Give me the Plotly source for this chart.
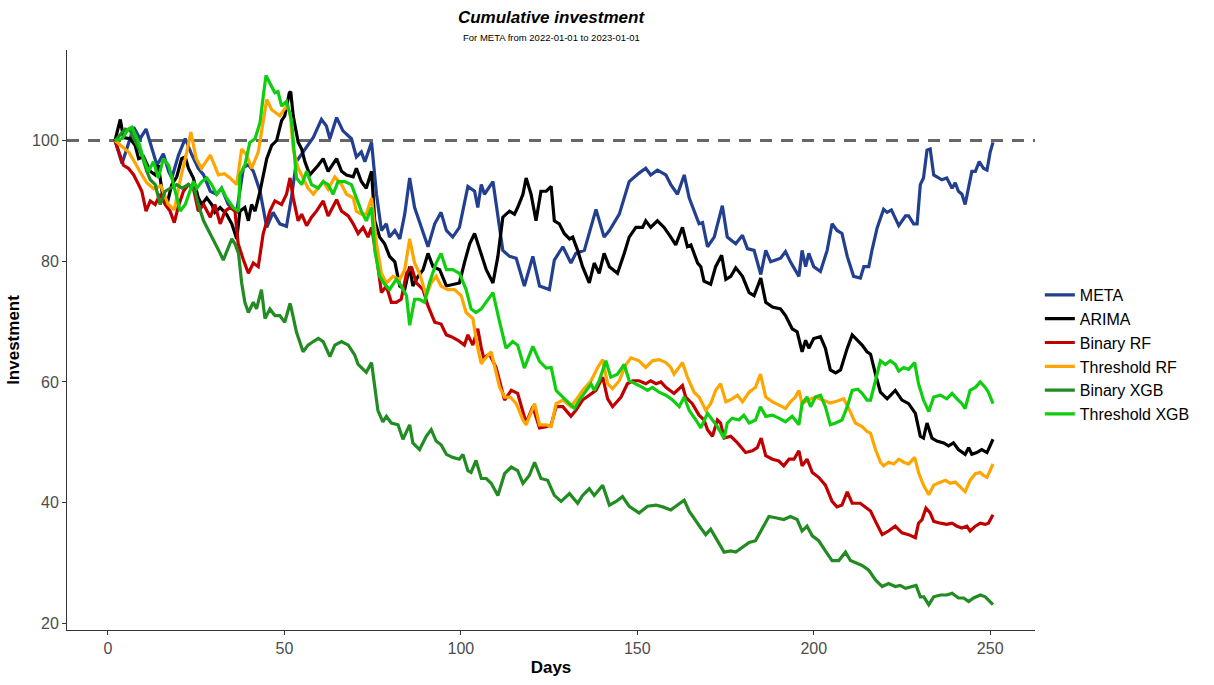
import plotly.graph_objects as go

# ---- data: (day, cumulative investment) ----
META = [(2,100),(4,96.2),(7.3,102.2),(9.1,100.3),(10.8,101.9),(12.4,98.6),(13.9,95.9),(15.7,97.8),(17.2,94.9),(18.1,93.8),(20,97.6),(21.9,100.3),(23.8,97.6),(25.6,95.4),(27.1,94.3),(29,91.6),(30.8,91.1),(32.2,92.1),(34.1,89.4),(36.5,88.3),(38.4,95.5),(39.8,96),(41.2,94.9),(43.1,91.6),(45,85.6),(46.8,88.1),(48.7,86.2),(50.6,85.8),(52,90.5),(53.4,96.5),(56.3,98.9),(58.2,100.5),(60.5,103.5),(61.9,102.4),(62.9,100.3),(64.8,103.8),(66.6,101.6),(69,100.3),(70.4,97.3),(71.8,98.1),(72.8,96.5),(74.7,99.7),(76.1,91.1),(77.5,85.1),(78.9,86.2),(79.8,84),(81.3,85.1),(82.7,83.7),(84.1,87.8),(85.5,93.8),(86.9,88.9),(88.8,85.6),(90.7,82.4),(92.6,86.2),(94.4,88.1),(95.9,85.1),(97.7,84),(99.6,85.6),(102,92.4),(103.9,91.6),(104.8,88.9),(105.8,92.7),(106.7,91.1),(109.1,93.2),(111.9,81.8),(113.8,80.8),(115.7,80.5),(118,75.9),(120.4,80.8),(122.3,75.9),(125.1,75.3),(126.5,80.2),(128.9,82.4),(131.2,79.7),(132.6,81.3),(135,81.8),(138.3,88.6),(140.6,84),(142.1,85.1),(144.9,87.8),(147.7,93.2),(150.5,94.6),(152.4,95.4),(153.8,94.3),(155.7,95.1),(158.1,94.3),(159.5,92.7),(161.4,91.1),(163.3,94.3),(164.7,90.5),(167.5,86.2),(168.5,86.4),(169.9,82.4),(171.8,84),(174.1,89.2),(175.5,84),(177.9,82.9),(179.8,84.3),(181.2,82.1),(183.1,81.8),(185,77.8),(186.4,81.8),(187.8,79.9),(190.6,80.5),(192,81.6),(193.4,79.9),(195.8,77.5),(196.7,81.8),(197.7,79.1),(198.6,81.3),(200,79.1),(201.9,78.3),(203.8,81.8),(205.2,86.2),(206.6,85.1),(208,84.6),(209.5,80.8),(211.3,77.5),(213.2,77.2),(214.2,79.1),(215.6,79.1),(216.5,81.8),(218,85.6),(219.8,88.6),(220.8,88.1),(222,88.5),(224.1,85.9),(226,87.5),(226.9,87.5),(228.3,86.2),(229.3,86.2),(230.2,92.7),(231.1,93.8),(232.1,98.4),(233,98.6),(234,94.3),(234.9,94),(236.3,93.5),(237.7,93.8),(239.2,92.1),(240.1,93),(241,91.6),(242,91.1),(242.9,89.4),(244.8,94.9),(245.8,94.9),(246.9,96.5),(248.1,95.4),(249.1,95.1),(250,98.1),(250.8,99.7)]

ARIMA = [(2,100),(3.5,103.5),(4.4,100.5),(6.3,100.3),(7.7,99.2),(8.7,97),(10.1,97.3),(12,94.9),(13.4,94.3),(14.3,95.9),(15.7,90),(16.7,89.4),(18.1,92.7),(19.5,94),(20.9,97),(21.9,97.3),(22.8,95.4),(24.2,93.8),(25.6,90.5),(26.6,89.4),(28,90.5),(29.4,89.4),(30.3,88.1),(31.8,88.9),(33.6,87.8),(35.1,86.2),(36.5,83.7),(37.4,88.3),(38.8,88.9),(39.8,86.7),(40.7,89.4),(41.7,88.3),(43.1,91.6),(45,97),(46.4,99.2),(47.8,100),(49.2,103.3),(50.1,104.1),(51.4,107.9),(51.8,108.1),(52.5,104.1),(53.9,99.7),(54.9,98.6),(55.8,96.5),(57.2,94.3),(58.2,94.9),(59.6,95.9),(61,97),(62.4,94.9),(64.8,97),(66.2,94.9),(67.6,94.3),(69.5,94),(70.4,95.4),(71.8,93.2),(73.2,92.1),(74.7,94.9),(75.6,86.7),(77,84),(78.4,82.9),(79.8,80.8),(81.3,79.9),(82.7,75.9),(84.1,75.3),(85.5,79.1),(86.4,75.9),(87.9,77.5),(89.3,78.6),(90.7,81.3),(92.1,79.1),(94,78.6),(95.9,75.9),(97.7,76.2),(99.6,76.4),(101,79.7),(102.5,82.9),(103.9,84.6),(104.8,82.9),(105.8,80.8),(107.2,78.6),(109.1,76.4),(110.5,80.8),(111.9,87.3),(113.8,88.3),(115.2,87.8),(116.1,88.9),(117.6,91.1),(118.5,93.8),(119.9,91.1),(121.3,86.7),(122.7,91.6),(124.2,91.6),(125.6,92.4),(126.5,86.7),(127.9,86.2),(129.3,84.6),(130.8,83.7),(131.7,84),(133.1,81.8),(134.5,79.1),(136.4,76.4),(137.8,79.7),(139.2,78),(140.6,81.3),(142.1,79.1),(144.4,78),(146.3,81.3),(147.7,84),(149.6,85.6),(151.5,85.6),(152.4,86.7),(153.8,85.6),(155.7,86.7),(157.6,85.6),(159.5,84),(160.9,82.7),(162.8,85.6),(164.2,82.4),(165.2,82.7),(167.1,79.7),(168,79.1),(168.9,76.7),(170.8,76.2),(172.2,79.1),(173.9,81),(175.1,77),(176.5,77.5),(177.9,78.9),(179.8,77.5),(181.7,74.8),(183.1,74.3),(185,77.2),(186.4,73.2),(188.3,72.4),(190.6,72.1),(192,71),(193.9,68.8),(195.3,68.3),(196.7,65),(197.7,66.9),(198.6,65.6),(200,67.2),(201.9,67.5),(203.3,65.6),(204.7,62),(206.2,61.5),(207.6,62),(209.5,65.6),(210.9,67.8),(212.3,66.9),(213.7,66.1),(215.1,65),(216.1,64.6),(217.5,61.3),(218.9,58.3),(220.8,57.2),(223.1,58.6),(225,57),(226.9,56.4),(228.8,54.8),(230.2,51),(231.1,50.7),(232.1,53.2),(233.5,50.7),(234.9,50.2),(236.8,49.9),(238.2,49.4),(239.6,49.9),(241,48.8),(242.9,48),(243.9,49.1),(244.8,48),(246.2,48.3),(247.6,48.8),(249.1,48.3),(250.8,50.5)]

BINARY_RF = [(2,100),(3.5,97.6),(4.4,95.9),(5.8,95.4),(7.3,94.3),(8.7,92.7),(9.6,91.6),(10.8,88.3),(12,90),(13.4,89.4),(14.8,91.1),(16.2,89.4),(17.6,88.3),(18.8,86.4),(20,89.2),(21.4,91.6),(22.8,92.7),(24.2,92.1),(25.6,88.3),(27.1,89.4),(29,87.3),(30.3,89.4),(31.8,86.2),(33.2,88.3),(34.6,88.9),(36,88.3),(36.9,82.9),(38.4,80.2),(39.8,78),(41.2,79.7),(42.6,79.1),(44,84.6),(45.9,88.3),(47.3,90),(49.2,89.4),(50.6,91.1),(51.6,93.8),(52.5,90.5),(53.9,86.7),(54.9,87.8),(56.3,85.9),(57.7,87.3),(59.1,88.3),(61,90),(62.4,87.5),(64.8,90.2),(66.2,88.3),(68.1,87.5),(69.5,86.2),(70.9,84.6),(72.3,85.6),(73.7,84),(74.7,85.6),(76.1,80.8),(77.5,74.8),(78.9,75.9),(80.3,73.2),(81.7,73.2),(83.1,73.7),(84.6,78),(86,79.1),(87.4,76.4),(89.3,75.3),(90.7,72.6),(92.6,69.9),(94.4,69.6),(95.9,67.8),(97.3,67.5),(99.2,66.9),(101,66.1),(102,67.8),(103.4,66.1),(104.8,68.8),(105.8,65.6),(106.5,64),(108.1,64.6),(110,62.4),(112.4,57),(114.3,58.6),(116.1,58.1),(118.5,53.2),(120.4,55.9),(122.3,52.4),(124.2,52.6),(125.6,52.9),(127,55.9),(128.9,55.9),(131.2,54.3),(132.6,55.3),(134.5,57),(136.9,58.1),(138.3,58.6),(140.2,60.8),(141.6,57.2),(143,55.9),(145.4,57.5),(147.2,59.7),(148.7,60.2),(150.5,60.2),(152.4,59.7),(153.8,60.2),(155.3,59.7),(156.7,60),(158.1,59.1),(160.4,58.1),(162.8,59.4),(163.7,57.5),(165.6,56.4),(167.5,54.5),(168.9,53.7),(169.9,52.1),(171.3,51),(172.7,53.7),(173.6,53.2),(174.6,50.7),(176.5,51),(178.4,49.9),(180.7,48.3),(182.6,48.6),(184,49.1),(185.1,50.7),(186.4,47.8),(188.3,47.2),(190.1,46.9),(191.5,46.1),(193,47.2),(194.4,47.2),(195.8,48.6),(196.7,46.1),(198.1,47.2),(199.6,45),(201.4,44.2),(203.3,42.9),(205.2,40.2),(206.6,39.3),(208,39.6),(209.5,41.8),(210.9,39.9),(213.2,39.9),(214.6,39.3),(216.1,38.6),(217.5,36.9),(219.4,34.7),(221.2,35.3),(223.1,36.1),(225,35),(226.9,34.7),(228.8,34.2),(229.7,36.6),(230.7,37.2),(231.8,39.1),(233,38.3),(234,36.9),(235.9,36.6),(237.7,36.4),(239.2,36.6),(240.6,36.1),(242,35.8),(243.4,36.1),(244.3,35.3),(245.8,36.1),(247.2,36.6),(248.6,36.4),(249.5,36.6),(250.8,38)]

THRESHOLD_RF = [(2,100),(4,99),(6,98),(8,96),(9,94.9),(11,93),(13,92),(15,92.5),(17,89.5),(18.8,88.5),(20.5,93.5),(22.3,98),(23.5,101.4),(25,97),(26.5,95.4),(29,97.6),(31.3,94.3),(33,94.5),(34.6,93.8),(36.5,92.7),(37.9,98.6),(39.3,97.6),(40.7,95.4),(42.6,98.1),(44,103.5),(45,106.8),(46.4,105.1),(48.7,104.1),(50.6,105.7),(51.6,104.6),(52.5,98.6),(53.9,95.4),(55.3,93.8),(56.7,92.1),(58.2,91.1),(59.6,92.1),(61,93.2),(62.4,91.9),(64.3,94),(66.2,92.7),(67.6,91.1),(69.5,90.5),(70.4,88.3),(71.8,87.8),(73.2,87.8),(74.7,90.5),(76.1,82.9),(77.5,78),(78.9,76.4),(80.8,77.5),(82.7,77),(84.1,78.6),(85.5,83.7),(86.9,79.7),(88.3,78),(90.2,74.3),(91.6,76.4),(93,77.5),(94.4,75.9),(96.3,75.3),(98.2,75.3),(100.1,74.3),(101.5,71.5),(103.4,70.5),(104.8,65.6),(105.8,63),(106.2,63.4),(108.6,65),(109.5,62.9),(111,59.1),(112.4,57.5),(114,57.5),(115.7,56.4),(117.6,53.7),(118.5,52.9),(120.9,56.4),(122.3,52.9),(124.2,52.9),(125.6,52.6),(127,56.4),(128.9,57),(131.2,55.9),(132.6,57),(134.5,58.6),(136.9,60.2),(138.8,62.4),(140.2,63.7),(141.6,59.7),(143,58.9),(144.9,60.2),(146.8,62.9),(148.2,64),(150.5,63.5),(152.4,62.4),(154.3,63.5),(156.2,63.7),(158.1,63.2),(159.5,62.4),(160.4,61.3),(162.8,63.2),(164.2,60.8),(166.1,58.3),(167.5,57.5),(169.4,55.3),(170.8,56.4),(172.2,58.6),(173.6,59.7),(175.1,56.7),(176.9,57.2),(178.4,57.8),(179.8,56.7),(181.7,58.3),(183.5,59.1),(184.9,61.3),(186.4,57.5),(188.3,56.7),(190.1,56.2),(192,55.6),(193.4,56.7),(194.8,57.5),(195.8,58.6),(196.7,56.4),(198.5,57),(200.5,57.5),(202.5,57),(204.7,56.5),(206.5,56.8),(208.5,57.2),(210.4,55),(211.8,53.2),(213.7,52.6),(215.1,51.8),(216.1,51.5),(217.5,48.8),(218.9,46.7),(219.8,46.1),(221.2,46.7),(222.7,46.4),(224.1,47.2),(225.5,46.7),(226.9,46.4),(228.6,47.5),(229.7,45),(231.1,42.9),(232.6,41.3),(234,42.9),(235.9,43.4),(237.3,43.7),(238.7,43.2),(240.1,43.4),(241.5,42.6),(242.9,41.8),(244.3,43.7),(245.8,44.8),(247.2,45),(248.1,44.5),(249.1,44.2),(250.8,46.4)]

BINARY_XGB = [(2,100),(4.9,101.9),(6.3,101.6),(8.2,99.2),(9.6,97.6),(11,94.9),(12,93.5),(13.4,92.7),(14.8,89.4),(16.2,91.6),(17.6,92.1),(19.5,92.7),(21,92.1),(22.8,92.7),(24.7,91.6),(25.6,89.4),(27.1,86.7),(29,84.6),(30.3,82.9),(31.8,81.3),(32.7,80.2),(34.1,82.4),(35.1,83.7),(36,82.9),(37,81.3),(37.9,76.4),(38.8,73.2),(39.8,71.5),(41.2,73.2),(42.1,72.1),(43.5,75.3),(44.5,70.5),(45.9,72.1),(47.3,71),(48.7,71),(50.1,69.9),(51.6,73),(52,72.1),(53.4,68.3),(55.3,65),(56.7,66.1),(58.2,66.7),(59.6,67.2),(61,66.7),(62.9,64.2),(64.3,66.1),(66.2,66.7),(68.1,66.1),(69.9,64.5),(70.9,62.9),(73.2,61.6),(74.7,63.2),(75.6,59.1),(76.5,55.3),(77.9,53.4),(78.9,54.3),(80.3,53.2),(82.2,52.9),(83.6,50.5),(85.5,52.9),(86.4,49.9),(88.3,48.8),(90.2,51),(91.6,52.1),(93,50.2),(94.4,49.6),(95.9,48),(97.7,47.5),(99.6,47.2),(100.6,48),(102,45.3),(102.9,45),(104.3,47),(105.8,44),(107.2,44),(108.6,43.2),(110.5,41.2),(112.4,44.8),(114.3,45.9),(116.1,45.3),(117.6,43.2),(119.4,44.5),(120.9,46.7),(122.7,44),(124.6,43.7),(126.5,41.2),(128.4,40.2),(130.8,41.5),(133.1,39.9),(134.5,41.2),(136.4,42.3),(137.8,41.2),(140.2,42.9),(142.1,39.6),(144,40.2),(145.8,41),(147.7,39.4),(150.5,38.3),(152.9,39.4),(155.3,39.6),(157.2,39.3),(159.5,38.8),(161.4,39.6),(163.3,40.4),(164.7,38.6),(166.6,36.9),(168,35.8),(169.4,34.7),(170.8,35.6),(172.7,33.7),(174.6,31.8),(176.5,32),(177.9,31.8),(179.8,32.6),(181.7,33.4),(183.5,33.7),(185.4,35.8),(187.3,37.7),(189.2,37.5),(191.5,37.2),(193.4,37.7),(195.3,37.2),(196.7,35.3),(198.1,36.1),(199.6,34.5),(201.4,33.7),(203.3,32),(205.2,30.4),(207.1,30.4),(209,31.8),(210.4,30.4),(212.8,29.9),(213.7,29.6),(215.6,28.8),(217.5,27.2),(219.4,26.1),(221.2,26.6),(223.1,26.1),(224.5,26.3),(226,25.8),(227.8,26.1),(229,26.3),(230.2,24.4),(231.2,24.4),(232.6,23.1),(234,24.4),(235.9,24.7),(237.7,24.7),(239.2,25),(241,24.2),(242.5,24.2),(243.9,23.6),(245.3,24.2),(247.2,24.7),(248.6,24.4),(250.8,23.1)]

THRESHOLD_XGB = [(2,100),(4,100.3),(5.8,101.9),(6.8,102.2),(8.7,99.7),(10.1,97),(11.5,94.9),(12.9,96.5),(14.3,93.8),(15.7,97),(17.2,95.9),(18.6,92.7),(20.5,88.3),(21.9,89.4),(23.3,91.6),(24.2,93.2),(25.2,92.1),(26.6,93.2),(28,93.8),(29.4,92.7),(30.8,91.1),(32.2,92.1),(33.6,90.5),(35.5,88.9),(37,88.3),(37.4,94.3),(38.8,95.9),(40.2,99.7),(41.7,100.3),(43.1,103),(44,107.3),(44.8,110.8),(45.9,109.5),(47.3,107.9),(48.2,108.1),(49.2,105.7),(50.6,106.5),(52,103.5),(53.4,93.8),(54.9,92.7),(56.3,94.9),(57.7,92.7),(59.6,92.1),(61,93.2),(62.4,92.7),(63.8,91.1),(65.2,93.2),(67.1,93.2),(69,92.7),(70.4,90.5),(71.8,88.3),(73.2,86.7),(74.7,88.9),(75.6,81.8),(77,77.5),(78.4,76.2),(79.8,75.3),(81.7,77),(83.1,75.9),(84.6,74.3),(85.5,69.4),(86.9,73.7),(88.3,73.7),(89.7,73.2),(91.1,76.4),(93,79.7),(94.4,81.3),(95.9,78.6),(97.7,78.6),(99.6,78),(101.5,75.3),(102.9,72.1),(104.3,71.5),(105.8,72.1),(107.2,73.2),(109.1,74.8),(111,69.9),(112.8,65.6),(114.7,66.7),(116.1,66.1),(118,62.3),(120.4,65.9),(122.3,63.4),(124.2,62.3),(125.6,62.4),(127,58.6),(128.9,57.5),(130.8,56.4),(132.2,55.6),(133.6,57),(135.5,58.6),(136.9,59.7),(137.8,58.6),(139.2,60.2),(141.1,63.5),(142.5,60.8),(144.4,61.3),(146.3,62.9),(147.7,60.2),(149.6,59.7),(151.5,59.1),(152.9,58.6),(154.3,59.1),(156.2,58.3),(158.1,57.8),(160,57),(161.9,55.9),(163.3,57.5),(164.7,55.3),(166.6,53.7),(168,52.4),(169.9,54.8),(171.3,53.7),(172.7,52.6),(174.6,50.7),(175.5,53.2),(176.9,54),(178.8,53.7),(180.2,54.5),(181.7,53.2),(183.5,53.7),(184.9,55.9),(186.4,54.3),(188.3,54.5),(190.1,54),(192,53.4),(193.9,54.3),(195.8,52.9),(196.7,56.4),(198.1,57.5),(199.1,55.9),(200.5,57.5),(201.9,57.8),(203.3,55.9),(204.7,52.9),(206.2,53.2),(208,53.7),(209.5,55.9),(210.9,58.6),(212.5,58.8),(213.7,58.1),(215.1,57),(216.1,57),(217.5,60.2),(218.9,63.5),(220.3,62.9),(221.7,63.5),(223.1,62.9),(224.1,61.8),(225.5,62.4),(226.9,62.1),(228.6,63.2),(229.7,59.7),(231.1,57),(232.6,55.1),(234,57.5),(235.9,57.8),(237.7,57.2),(239.2,58.1),(240.6,57.2),(242,56.4),(242.9,55.6),(244.3,58.6),(245.8,59.1),(247.2,60),(248.6,59.1),(249.5,58.3),(250.8,56.4)]

SERIES_NAMES = ["META", "ARIMA", "Binary RF", "Threshold RF", "Binary XGB", "Threshold XGB"]
SERIES_DATA = [META, ARIMA, BINARY_RF, THRESHOLD_RF, BINARY_XGB, THRESHOLD_XGB]
SERIES_COLORS = ["#233F8F", "#000000", "#C00000", "#FFA500", "#228B22", "#0FCD0F"]

X_TICKS = [0, 50, 100, 150, 200, 250]
Y_TICKS = [20, 40, 60, 80, 100]
BASELINE = 100

FONT = "Liberation Sans, Arial, sans-serif"

fig = go.Figure()
for name, pairs, color in zip(SERIES_NAMES, SERIES_DATA, SERIES_COLORS):
    fig.add_trace(go.Scatter(
        x=[p[0] for p in pairs], y=[p[1] for p in pairs],
        mode="lines", name=name,
        line=dict(color=color, width=3.2),
    ))

fig.add_hline(y=BASELINE, line=dict(color="#666666", width=3, dash="12px,9px"), layer="below")

axis_common = dict(
    showgrid=False, zeroline=False, showline=True, linecolor="#333333", linewidth=1,
    ticks="outside", ticklen=4, tickcolor="#333333",
    tickfont=dict(family=FONT, size=16, color="#4D4D4D"),
)

fig.update_layout(
    width=1214, height=685,
    margin=dict(l=65, r=179, t=50, b=44),
    plot_bgcolor="white", paper_bgcolor="white",
    font=dict(family=FONT),
    title=dict(
        text="<b><i>Cumulative investment</i></b>",
        x=0.5, xref="paper", xanchor="center",
        y=1 - 17 / 685, yref="container", yanchor="middle",
        font=dict(family=FONT, size=17, color="black"),
    ),
    xaxis=dict(
        range=[-11.6, 262.7], tickvals=X_TICKS,
        title=dict(text="<b>Days</b>", font=dict(family=FONT, size=17, color="black"), standoff=4),
        **axis_common,
    ),
    yaxis=dict(
        range=[18.9, 115.0], tickvals=Y_TICKS,
        title=dict(text="<b>Investment</b>", font=dict(family=FONT, size=17, color="black"), standoff=8),
        **axis_common,
    ),
    legend=dict(
        x=1.005, xanchor="left", y=0.475, yanchor="middle",
        font=dict(family=FONT, size=16, color="black"),
        bgcolor="rgba(0,0,0,0)", tracegroupgap=0, itemwidth=30,
    ),
    annotations=[dict(
        text="For META from 2022-01-01 to 2023-01-01",
        xref="paper", yref="paper", x=0.5, y=1 + (50 - 37) / 591,
        xanchor="center", yanchor="middle", showarrow=False,
        font=dict(family=FONT, size=9.5, color="black"),
    )],
)

fig.write_html("out.html")
